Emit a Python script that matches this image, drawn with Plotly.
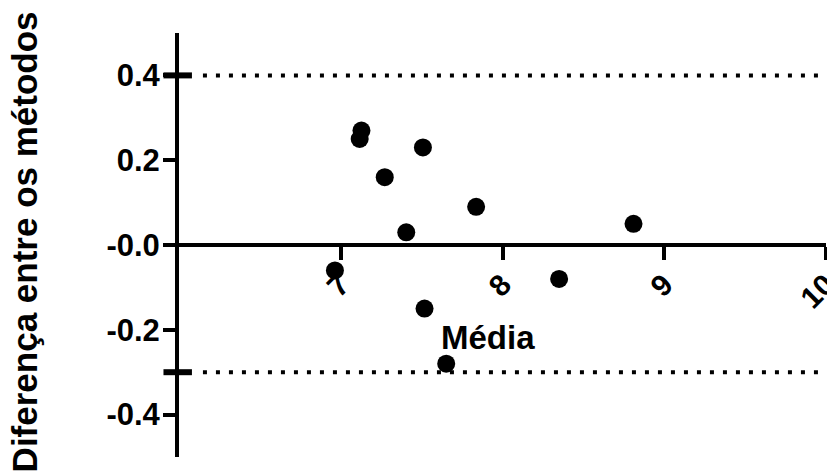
import plotly.graph_objects as go

# Data (Bland-Altman): mean of methods vs difference
media = [7.128, 7.117, 7.508, 7.272, 7.837, 7.405, 6.964, 8.350, 7.518, 7.652, 8.810]
diferenca = [0.27, 0.25, 0.23, 0.16, 0.09, 0.03, -0.06, -0.08, -0.15, -0.28, 0.05]

limite_superior = 0.4
limite_inferior = -0.3

y_tickvals = [0.4, 0.2, 0.0, -0.2, -0.4]
y_ticktext = ["0.4", "0.2", "-0.0", "-0.2", "-0.4"]
x_tickvals = [7, 8, 9, 10]
x_ticktext = ["7", "8", "9", "10"]

FONT = "Arial, Liberation Sans, Helvetica, sans-serif"

fig = go.Figure()
fig.add_trace(go.Scatter(
    x=media, y=diferenca, mode="markers",
    marker=dict(size=18, color="black", line=dict(width=0)),
    showlegend=False, cliponaxis=False, hoverinfo="skip",
))

shapes = []
for lim in (limite_superior, limite_inferior):
    # dotted limit line
    shapes.append(dict(type="line", xref="paper", yref="y", x0=0.037, x1=1.0,
                       y0=lim, y1=lim, line=dict(color="black", width=4, dash="4px,9px"),
                       layer="below"))
    # wide marker on y axis
    shapes.append(dict(type="line", xref="paper", yref="y", x0=-0.024, x1=0.02,
                       y0=lim, y1=lim, line=dict(color="black", width=6)))
fig.update_layout(shapes=shapes)

fig.update_layout(
    width=827, height=473,
    margin=dict(l=179, r=1, t=33, b=16, autoexpand=False),
    paper_bgcolor="white", plot_bgcolor="white",
    font=dict(family=FONT, color="black"),
    xaxis=dict(
        range=[6, 10], tickvals=x_tickvals, ticktext=x_ticktext,
        tickangle=-45, showgrid=False, zeroline=False,
        showline=True, linecolor="black", linewidth=4,
        ticks="outside", ticklen=13, tickwidth=4, tickcolor="black",
        tickfont=dict(family=FONT, size=30, weight="bold", color="black"),
        anchor="free", position=0.5, layer="below traces",
        automargin=False, ticklabeloverflow="allow", ticklabelstandoff=-5,
    ),
    yaxis=dict(
        range=[-0.5, 0.5], tickvals=y_tickvals, ticktext=y_ticktext,
        showgrid=False, zeroline=False,
        showline=True, linecolor="black", linewidth=4,
        ticks="outside", ticklen=12, tickwidth=4, tickcolor="black",
        tickfont=dict(family=FONT, size=31, weight="bold", color="black"),
        layer="below traces", automargin=False, ticklabeloverflow="allow",
        ticklabelstandoff=-3,
    ),
    annotations=[
        dict(text="Média", xref="paper", yref="paper", x=0.477, y=0.281,
             xanchor="center", yanchor="middle", showarrow=False,
             font=dict(family=FONT, size=33, weight="bold", color="black")),
        dict(text="Diferença entre os métodos", xref="paper", yref="paper",
             x=-0.239, y=0.507, xanchor="center", yanchor="middle",
             textangle=-90, showarrow=False,
             font=dict(family=FONT, size=35, weight="bold", color="black")),
    ],
)

fig.write_html(
    "out.html",
    config={"displayModeBar": False},
    post_script="document.body.style.margin='0';document.body.style.overflow='hidden';",
)
